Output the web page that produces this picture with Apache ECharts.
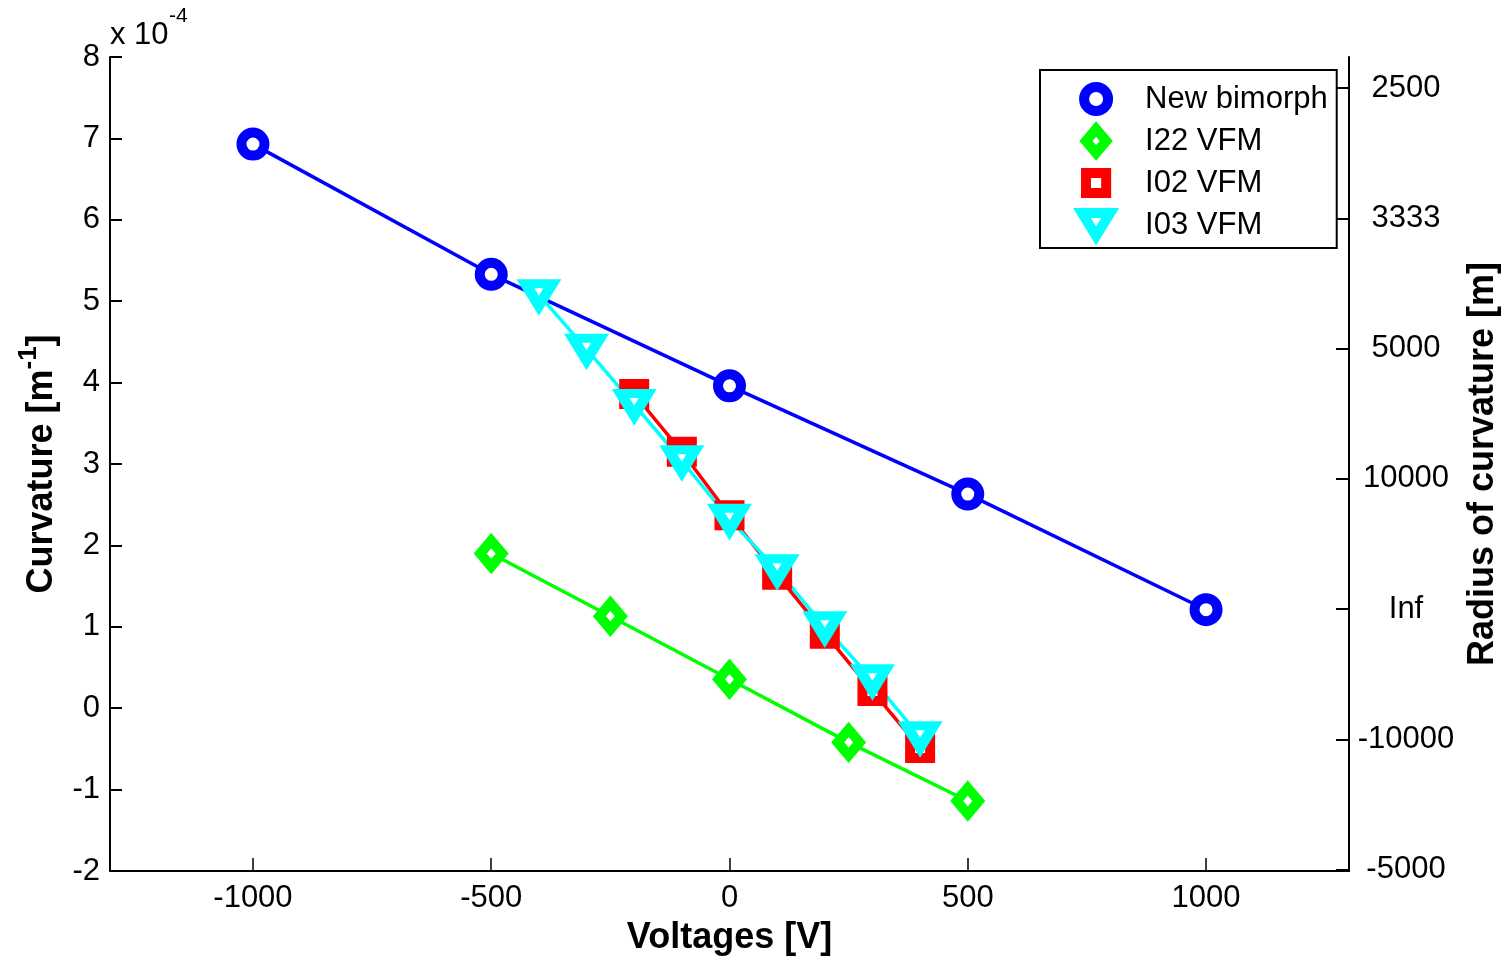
<!DOCTYPE html>
<html><head><meta charset="utf-8">
<script src="https://cdn.jsdelivr.net/npm/echarts@6/dist/echarts.min.js"></script>
<style>html,body{margin:0;padding:0;background:#fff}#c{width:1507px;height:957px}</style>
</head><body><div id="c"></div>
<script>
// ---- data ----
const seriesNames = ['New bimorph', 'I22 VFM', 'I02 VFM', 'I03 VFM'];
const bimorphV = [-1000, -500, 0, 500, 1000];
const bimorphC = [6.93, 5.33, 3.96, 2.63, 1.21];
const i22V = [-500, -250, 0, 250, 500];
const i22C = [1.90, 1.13, 0.355, -0.42, -1.14];
const i02V = [-200, -100, 0, 100, 200, 300, 400];
const i02C = [3.86, 3.15, 2.37, 1.64, 0.915, 0.21, -0.49];
const i03V = [-400, -300, -200, -100, 0, 100, 200, 300, 400];
const i03C = [5.08, 4.41, 3.73, 3.04, 2.32, 1.70, 1.00, 0.35, -0.35];
const xTicks = [-1000, -500, 0, 500, 1000];
const yTicks = [-2, -1, 0, 1, 2, 3, 4, 5, 6, 7, 8];
const radiusTickLabels = ['-5000', '-10000', 'Inf', '10000', '5000', '3333', '2500'];
const radiusTickInv = [-2, -1, 0, 1, 2, 3, 4];   // 1e4 / R
const radiusOffset = 1.217, radiusScale = 1.6;   // right-axis mapping onto curvature scale
const colors = ['#0000ff', '#00ff00', '#ff0000', '#00ffff'];

// ---- build ----
const font = "'Liberation Sans', Arial, Helvetica, sans-serif";
const zip = (a, b) => a.map((v, i) => [v, b[i]]);
const radiusPos = radiusTickInv.map(k => +(radiusOffset + radiusScale * k).toFixed(4));
const radiusLabel = v => {
  const i = radiusPos.findIndex(p => Math.abs(p - v) < 1e-6);
  return i >= 0 ? radiusTickLabels[i] : '';
};

function markerSeries(name, data, color, symbol, size, rotate) {
  return {
    type: 'line', name, data,
    symbol, symbolSize: size, symbolRotate: rotate || 0,
    showSymbol: true, showAllSymbol: true,
    lineStyle: { color, width: 3.5 },
    itemStyle: { color: '#ffffff', borderColor: color, borderWidth: 10, borderJoin: 'miter', opacity: 1 },
    emphasis: { disabled: true },
    silent: true
  };
}

const chart = echarts.init(document.getElementById('c'), null, { renderer: 'canvas' });
const option = {
  animation: false,
  backgroundColor: '#ffffff',
  grid: { left: 110, right: 158, top: 57, bottom: 86, containLabel: false, outerBoundsMode: 'none' },
  xAxis: {
    type: 'value', min: -1300, max: 1300,
    name: 'Voltages [V]', nameLocation: 'middle', nameGap: 49,
    nameTextStyle: { fontFamily: font, fontWeight: 'bold', fontSize: 36, color: '#000' },
    axisLine: { show: true, onZero: false, lineStyle: { color: '#000', width: 2 } },
    axisTick: { show: true, inside: true, length: 13, customValues: xTicks, lineStyle: { color: '#000', width: 1.5 } },
    axisLabel: { customValues: xTicks, formatter: v => String(v), fontFamily: font, fontSize: 31, color: '#000', margin: 12 },
    splitLine: { show: false }
  },
  yAxis: [
    {
      type: 'value', min: -2, max: 8, position: 'left',
      name: '{b|Curvature [m}{s|-1}{b|]}', nameLocation: 'middle', nameRotate: 90, nameGap: 50,
      nameTextStyle: {
        rich: {
          b: { fontFamily: font, fontWeight: 'bold', fontSize: 36, color: '#000', lineHeight: 44, verticalAlign: 'bottom' },
          s: { fontFamily: font, fontWeight: 'bold', fontSize: 26, color: '#000', lineHeight: 26, verticalAlign: 'top' }
        }
      },
      axisLine: { show: true, onZero: false, lineStyle: { color: '#000', width: 2 } },
      axisTick: { show: true, inside: true, length: 12, customValues: yTicks, lineStyle: { color: '#000', width: 2 } },
      axisLabel: { customValues: yTicks, formatter: v => String(v), fontFamily: font, fontSize: 31, color: '#000', margin: 10 },
      splitLine: { show: false }
    },
    {
      type: 'value', min: -2, max: 8, position: 'right',
      name: 'Radius of curvature [m]', nameLocation: 'middle', nameRotate: 90, nameGap: 113,
      nameTextStyle: { fontFamily: font, fontWeight: 'bold', fontSize: 36, color: '#000' },
      axisLine: { show: true, onZero: false, lineStyle: { color: '#000', width: 2 } },
      axisTick: { show: true, inside: true, length: 13, customValues: radiusPos, lineStyle: { color: '#000', width: 2 } },
      axisLabel: { customValues: radiusPos, formatter: radiusLabel, fontFamily: font, fontSize: 31, color: '#000', align: 'center', margin: 57 },
      splitLine: { show: false }
    }
  ],
  legend: {
    orient: 'vertical', left: 1040, top: 70,
    padding: [12, 9, 6, 37], itemGap: 8, itemWidth: 88, itemHeight: 24,
    backgroundColor: '#ffffff', borderColor: '#000', borderWidth: 2, borderRadius: 0,
    textStyle: { fontFamily: font, fontSize: 31, color: '#000' },
    selectedMode: false,
    data: [
      { name: seriesNames[0], icon: 'circle', itemStyle: { color: '#fff', borderColor: colors[0], borderWidth: 10 } },
      { name: seriesNames[1], icon: 'path://M11,0L22,13L11,26L0,13Z', itemStyle: { color: '#fff', borderColor: colors[1], borderWidth: 10, borderJoin: 'miter' } },
      { name: seriesNames[2], icon: 'path://M0,0M2,2L23,2L23,23L2,23ZM25,25', itemStyle: { color: '#fff', borderColor: colors[2], borderWidth: 10, borderJoin: 'miter' } },
      { name: seriesNames[3], icon: 'path://M0,0L27,0L13.5,22ZM0,23', itemStyle: { color: '#fff', borderColor: colors[3], borderWidth: 10, borderJoin: 'miter' } }
    ]
  },
  graphic: [
    { type: 'text', left: 110, top: 20, style: { text: 'x 10', font: "31px 'Liberation Sans', Arial, sans-serif", fill: '#000' } },
    { type: 'text', left: 169, top: 6, style: { text: '-4', font: "21px 'Liberation Sans', Arial, sans-serif", fill: '#000' } }
  ],
  series: [
    markerSeries(seriesNames[0], zip(bimorphV, bimorphC), colors[0], 'circle', 23),
    markerSeries(seriesNames[1], zip(i22V, i22C), colors[1], 'diamond', [22, 26]),
    markerSeries(seriesNames[2], zip(i02V, i02C), colors[2], 'rect', 20),
    markerSeries(seriesNames[3], zip(i03V, i03C), colors[3], 'triangle', [27, 22], 180)
  ]
};
chart.setOption(option);
</script>
</body></html>
